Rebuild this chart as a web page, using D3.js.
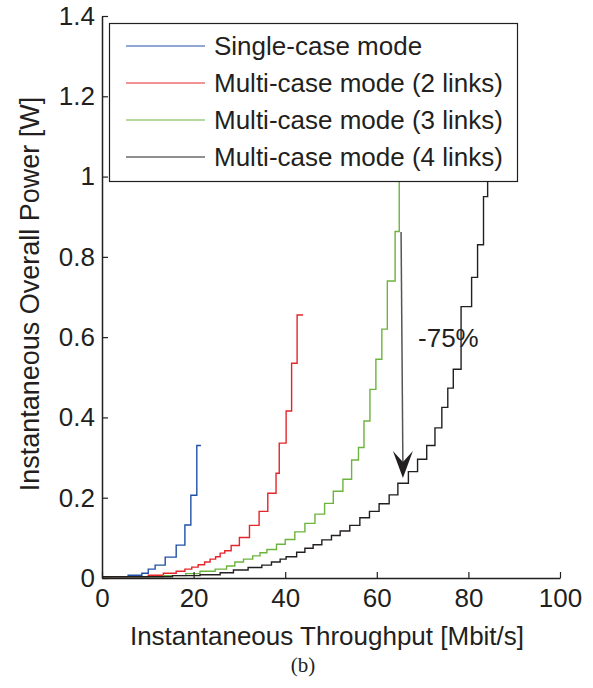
<!DOCTYPE html>
<html>
<head>
<meta charset="utf-8">
<script src="https://cdn.jsdelivr.net/npm/d3@7"></script>
<style>
  body { margin: 0; background: #fff; }
  svg { display: block; font-family: 'Liberation Sans', Arial, Helvetica, sans-serif; }
</style>
</head>
<body>
<svg id="chart" width="593" height="688"></svg>
<script>
// series names and colours (legend order)
const seriesNames = ['Single-case mode', 'Multi-case mode (2 links)', 'Multi-case mode (3 links)', 'Multi-case mode (4 links)']
const seriesColors = ['#2151a6', '#e3262c', '#6db33f', '#231f20']

// [throughput Mbit/s, power W] step points
const singleCase = [[0, 0.003], [5.7, 0.007], [8.7, 0.012], [10.1, 0.022], [11.6, 0.032], [13.8, 0.052],
  [16.2, 0.082], [18.1, 0.132], [19.4, 0.206], [20.7, 0.33], [21.6, 0.33]]
const multi2 = [[0, 0.003], [10.1, 0.007], [13.4, 0.012], [16.2, 0.017], [18.1, 0.022], [19.6, 0.027],
  [21.0, 0.033], [22.4, 0.040], [23.6, 0.047], [24.8, 0.053], [25.8, 0.062], [26.8, 0.068], [28.2, 0.081],
  [30.0, 0.101], [32.2, 0.131], [34.3, 0.166], [36.2, 0.211], [38.0, 0.261], [38.7, 0.336], [40.2, 0.416],
  [41.4, 0.535], [42.6, 0.655], [43.9, 0.655]]
const multi3 = [[0, 0.003], [13.4, 0.006], [18.3, 0.011], [21.4, 0.017], [24.7, 0.022], [27.2, 0.030],
  [29.0, 0.040], [30.9, 0.047], [32.9, 0.055], [34.5, 0.063], [36.0, 0.071], [38.1, 0.084], [40.0, 0.096],
  [42.1, 0.115], [44.3, 0.136], [46.5, 0.159], [48.6, 0.186], [50.5, 0.216], [52.6, 0.246], [54.5, 0.294],
  [56.0, 0.325], [57.2, 0.391], [58.5, 0.470], [59.8, 0.545], [61.1, 0.620], [62.3, 0.740], [64.0, 0.863],
  [64.9, 1.1]]
const multi4 = [[0, 0.003], [15.4, 0.006], [21.4, 0.008], [25.8, 0.013], [28.7, 0.020], [31.9, 0.026],
  [34.9, 0.032], [37.0, 0.040], [38.9, 0.047], [40.2, 0.053], [42.5, 0.064], [44.3, 0.074], [46.1, 0.083],
  [48.0, 0.095], [50.1, 0.106], [52.0, 0.117], [54.1, 0.131], [56.3, 0.150], [58.4, 0.166], [60.5, 0.185],
  [62.7, 0.207], [64.6, 0.236], [66.9, 0.265], [68.9, 0.296], [70.9, 0.330], [72.7, 0.374], [74.2, 0.425],
  [75.5, 0.473], [76.7, 0.520], [78.4, 0.676], [80.7, 0.749], [82.0, 0.830], [83.3, 0.950], [84.2, 1.1]]

const xTicks = [0, 20, 40, 60, 80, 100]
const yTicks = [0, 0.2, 0.4, 0.6, 0.8, 1, 1.2, 1.4]

// annotation: arrow from 3-link curve down to 4-link curve
const arrowFrom = [65.3, 0.862]
const arrowTo = [65.7, 0.249]
const arrowLabel = { x: 69.0, y: 0.575, text: '-75%' }

const ink = '#231f20'
const allSeries = [singleCase, multi2, multi3, multi4]

const svg = d3.select('#chart')

const x = d3.scaleLinear().domain([0, 100]).range([102, 560])
const y = d3.scaleLinear().domain([0, 1.4]).range([578, 16])

const line = d3.line()
  .x(d => x(d[0]))
  .y(d => y(d[1]))
  .curve(d3.curveStepAfter)

svg.append('g')
  .selectAll('path')
  .data(allSeries)
  .join('path')
  .attr('fill', 'none')
  .attr('stroke', (d, i) => seriesColors[i])
  .attr('stroke-width', 1.4)
  .attr('d', line)

// axes, MATLAB style: ticks inward, no box
const xAxis = svg.append('g')
  .attr('transform', `translate(0,${y(0)})`)
  .call(d3.axisBottom(x).tickValues(xTicks).tickSizeInner(-6).tickSizeOuter(0).tickPadding(11))

const yAxis = svg.append('g')
  .attr('transform', `translate(${x(0)},0)`)
  .call(d3.axisLeft(y).tickValues(yTicks).tickFormat(d3.format('~g')).tickSizeInner(-6).tickSizeOuter(0).tickPadding(7))

;[xAxis, yAxis].forEach(g => {
  g.select('.domain').attr('stroke', ink).attr('stroke-width', 1.5)
  g.selectAll('.tick line').attr('stroke', ink).attr('stroke-width', 1.2)
  g.selectAll('.tick text').attr('fill', ink).attr('font-size', '26px').attr('font-family', null)
})

// axis titles
svg.append('text')
  .attr('x', (x(0) + x(100)) / 2 - 4)
  .attr('y', 645)
  .attr('text-anchor', 'middle')
  .attr('font-size', '26px')
  .attr('fill', ink)
  .text('Instantaneous Throughput [Mbit/s]')

svg.append('text')
  .attr('transform', `translate(39,${(y(0) + y(1.4)) / 2 - 3}) rotate(-90)`)
  .attr('text-anchor', 'middle')
  .attr('font-size', '27px')
  .attr('fill', ink)
  .text('Instantaneous Overall Power [W]')

// arrow + label
const ax1 = x(arrowFrom[0]), ay1 = y(arrowFrom[1])
const ax2 = x(arrowTo[0]), ay2 = y(arrowTo[1])
svg.append('line')
  .attr('x1', ax1).attr('y1', ay1)
  .attr('x2', ax2).attr('y2', ay2 - 12)
  .attr('stroke', '#555')
  .attr('stroke-width', 1.5)
svg.append('path')
  .attr('d', `M${ax2},${ay2} L${ax2 - 10},${ay2 - 27} L${ax2},${ay2 - 16} L${ax2 + 10},${ay2 - 27} Z`)
  .attr('fill', ink)

svg.append('text')
  .attr('x', x(arrowLabel.x))
  .attr('y', y(arrowLabel.y))
  .attr('font-size', '26px')
  .attr('fill', ink)
  .text(arrowLabel.text)

// legend
const legend = svg.append('g')
legend.append('rect')
  .attr('x', 109.5).attr('y', 23.5)
  .attr('width', 408).attr('height', 158)
  .attr('fill', '#fff')
  .attr('stroke', ink)
  .attr('stroke-width', 1.2)

const rows = legend.selectAll('g.row')
  .data(seriesNames)
  .join('g')
  .attr('class', 'row')
  .attr('transform', (d, i) => `translate(0,${46 + i * 37})`)

rows.append('line')
  .attr('x1', 126).attr('x2', 205)
  .attr('stroke', (d, i) => seriesColors[i])
  .attr('stroke-width', 1.2)

rows.append('text')
  .attr('x', 214)
  .attr('dy', '0.35em')
  .attr('font-size', '26px')
  .attr('fill', ink)
  .text(d => d)

// caption
svg.append('text')
  .attr('x', 303)
  .attr('y', 672)
  .attr('text-anchor', 'middle')
  .attr('font-family', "'Liberation Serif', 'Times New Roman', serif")
  .attr('font-size', '21px')
  .attr('fill', ink)
  .text('(b)')
</script>
</body>
</html>
